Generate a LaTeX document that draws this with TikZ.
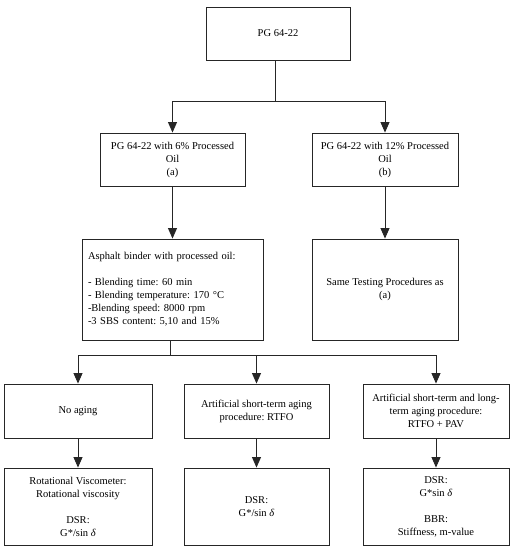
\documentclass[tikz,border=0pt]{standalone}
\usepackage{fontspec}
\setmainfont{Liberation Serif}
\usetikzlibrary{arrows.meta}
\frenchspacing
\begin{document}
\begin{tikzpicture}[x=1pt,y=-1pt,
  box/.style={draw=black!85, line width=0.9pt, align=center, inner sep=3pt, font=\fontsize{10.5}{13}\selectfont},
  arr/.style={draw=black!85, line width=0.9pt, -{Triangle[length=10.5pt,width=9pt]}},
  ln/.style={draw=black!85, line width=0.9pt}]
\useasboundingbox (0,0) rectangle (513,550);
\node[box, minimum width=144pt, minimum height=53pt] (top) at (278,33.5) {PG 64-22};
\node[box, minimum width=145pt, minimum height=53pt] (a) at (172.5,159.5) {PG 64-22 with 6\% Processed\\Oil\\(a)};
\node[box, minimum width=146pt, minimum height=53pt] (b) at (385,159.5) {PG 64-22 with 12\% Processed\\Oil\\(b)};
\node[box, minimum width=181pt, minimum height=101pt, text width=169pt, inner sep=6pt, align=left] (c) at (172.5,289.5) {Asphalt binder with processed oil:\\[13pt]- Blending time: 60 min\\- Blending temperature: 170 °C\\-Blending speed: 8000 rpm\\-3 SBS content: 5,10 and 15\%};
\node[box, minimum width=146pt, minimum height=101pt] (d) at (385,289.5) {Same Testing Procedures as\\(a)};
\node[box, minimum width=148pt, minimum height=54pt] (n1) at (78,411) {No aging};
\node[box, minimum width=145pt, minimum height=54pt] (n2) at (256.5,411) {Artificial short-term aging\\procedure: RTFO};
\node[box, minimum width=146pt, minimum height=54pt] (n3) at (436,411) {Artificial short-term and long-\\term aging procedure:\\RTFO + PAV};
\node[box, minimum width=148pt, minimum height=77pt] (m1) at (78,506.5) {Rotational Viscometer:\\Rotational viscosity\\[13pt]DSR:\\G*/sin \textit{δ}};
\node[box, minimum width=145pt, minimum height=77pt] (m2) at (256.5,506.5) {DSR:\\G*/sin \textit{δ}};
\node[box, minimum width=146pt, minimum height=77pt] (m3) at (436,506.5) {DSR:\\G*sin \textit{δ}\\[13pt]BBR:\\Stiffness, m-value};
\coordinate (j1) at (275.5,101);
\draw[ln] (top.south -| j1) -- (j1);
\draw[arr] (j1) -| (a.north);
\draw[arr] (j1) -| (b.north);
\draw[arr] (a) -- (c);
\draw[arr] (b) -- (d);
\coordinate (j2) at (170,355);
\draw[ln] (c.south -| j2) -- (j2);
\draw[arr] (j2) -| (n1.north);
\draw[arr] (j2) -| (n2.north);
\draw[arr] (j2) -| (n3.north);
\draw[arr] (n1) -- (m1);
\draw[arr] (n2) -- (m2);
\draw[arr] (n3) -- (m3);
\end{tikzpicture}
\end{document}
